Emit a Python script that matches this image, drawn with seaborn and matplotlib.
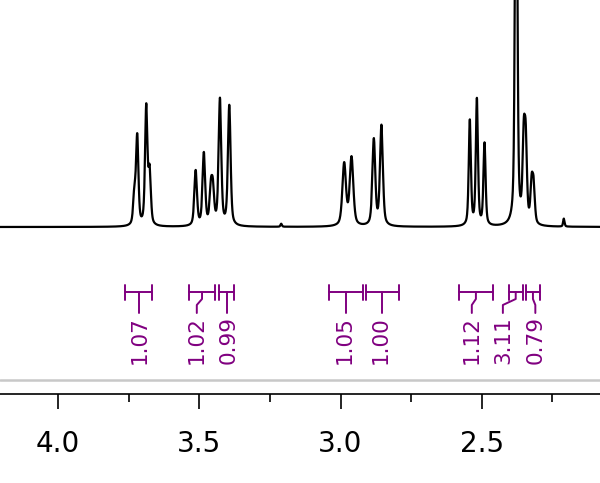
import numpy as np
import pandas as pd
import matplotlib
matplotlib.use("Agg")
import matplotlib.pyplot as plt
from matplotlib.ticker import MultipleLocator, FormatStrFormatter
import seaborn as sns

sns.set_style("white")
plt.rcParams["font.family"] = ["DejaVu Sans"]
plt.rcParams["text.color"] = "black"
plt.rcParams["xtick.color"] = "black"

# ========================================================
# Peak table (ppm, height, width)
# ========================================================
peak_ppm = [3.730, 3.720, 3.688, 3.676,
            3.513, 3.484, 3.459, 3.452, 3.427, 3.394, 3.210,
            2.987, 2.961, 2.882, 2.855,
            2.542, 2.517, 2.490, 2.378, 2.351, 2.344, 2.323, 2.316, 2.209]
peak_height = [30, 88, 118, 52,
               55, 72, 33, 32, 126, 120, 3,
               62, 68, 86, 100,
               105, 126, 82, 520, 78, 75, 38, 35, 8]
peak_fwhm = [0.010, 0.010, 0.010, 0.010,
             0.011, 0.011, 0.011, 0.011, 0.011, 0.011, 0.006,
             0.015, 0.015, 0.012, 0.012,
             0.009, 0.009, 0.009, 0.009, 0.010, 0.010, 0.010, 0.010, 0.006]

# integrals
int_start = [3.763, 3.536, 3.431, 3.040, 2.911, 2.580, 2.404, 2.343]
int_end = [3.667, 3.445, 3.376, 2.920, 2.792, 2.461, 2.355, 2.294]
int_value = ["1.07", "1.02", "0.99", "1.05", "1.00", "1.12", "3.11", "0.79"]
int_label_ppm = [3.712, 3.509, 3.398, 2.984, 2.857, 2.535, 2.425, 2.310]

xmin, xmax = 4.206, 2.081
purple = "#800080"

# ========================================================
# Build spectrum (pseudo-Voigt lines)
# ========================================================
ppm = np.linspace(xmax - 0.01, xmin + 0.01, 9000)
intensity = np.zeros_like(ppm)
for x0, h, w in zip(peak_ppm, peak_height, peak_fwhm):
    hw = w / 2
    d = (ppm - x0) / hw
    intensity += h * (0.5 / (1 + d**2) + 0.5 * np.exp(-np.log(2) * d**2))
df = pd.DataFrame({"ppm": ppm, "intensity": intensity})

# ========================================================
# Plot
# ========================================================
fig = plt.figure(figsize=(6, 4.83), dpi=100)
ax = fig.add_axes([0, 89 / 483, 1, 1 - 89 / 483])
sns.lineplot(data=df, x="ppm", y="intensity", color="black", lw=1.6,
             estimator=None, sort=False, ax=ax)

yb = -65
cap = 7.5
for s, e, v, lab in zip(int_start, int_end, int_value, int_label_ppm):
    ax.plot([s, e], [yb, yb], color=purple, lw=1.4)
    ax.plot([s, s], [yb - cap, yb + cap], color=purple, lw=1.4)
    ax.plot([e, e], [yb - cap, yb + cap], color=purple, lw=1.4)
    c = (s + e) / 2
    if abs(c - lab) < 0.006:
        ax.plot([c, c], [yb, yb - 21], color=purple, lw=1.4)
    else:
        ax.plot([c, c, lab, lab], [yb, yb - 7, yb - 13, yb - 21], color=purple, lw=1.4)
    ax.text(lab, yb - 24, v, rotation=90, ha="center", va="top",
            color=purple, fontsize=15.5)

ax.axhline(-153, color="#c8c8c8", lw=1.8)

ax.set_xlim(xmin, xmax)
ax.set_ylim(-167, 227)
ax.xaxis.set_major_locator(MultipleLocator(0.5))
ax.xaxis.set_minor_locator(MultipleLocator(0.25))
ax.xaxis.set_major_formatter(FormatStrFormatter("%.1f"))
ax.tick_params(axis="x", which="major", length=11, width=1.2, pad=15,
               labelsize=20, direction="out", bottom=True,
               color="black", labelcolor="black")
ax.tick_params(axis="x", which="minor", length=5.5, width=1.2,
               direction="out", bottom=True, color="black")
ax.set_yticks([])
ax.set_xlabel("")
ax.set_ylabel("")
for side in ["top", "left", "right"]:
    ax.spines[side].set_visible(False)
ax.spines["bottom"].set_color("black")
ax.spines["bottom"].set_linewidth(1.2)
ax.patch.set_alpha(0)

fig.savefig("out.png", dpi=100)
